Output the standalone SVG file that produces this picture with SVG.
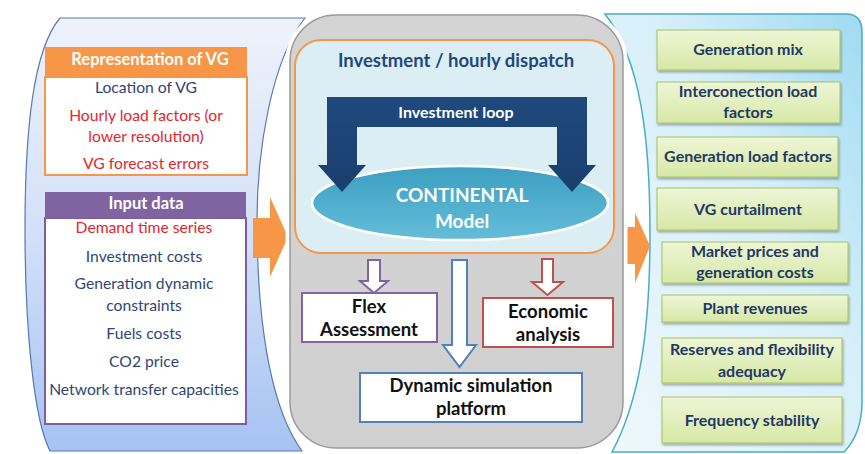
<svg xmlns="http://www.w3.org/2000/svg" width="865" height="454" viewBox="0 0 865 454">
<defs>
  <linearGradient id="gLeft" x1="0" y1="0" x2="0" y2="1">
    <stop offset="0" stop-color="#eef2fb"/>
    <stop offset="0.5" stop-color="#d3e0f8"/>
    <stop offset="1" stop-color="#a6c3f2"/>
  </linearGradient>
  <linearGradient id="gRight" x1="0" y1="1" x2="1" y2="0">
    <stop offset="0" stop-color="#eef8fc"/>
    <stop offset="0.6" stop-color="#d6eff9"/>
    <stop offset="1" stop-color="#9fdaf2"/>
  </linearGradient>
  <linearGradient id="gGray" x1="0" y1="0" x2="0" y2="1">
    <stop offset="0" stop-color="#d4d4d4"/>
    <stop offset="1" stop-color="#d0d0d0"/>
  </linearGradient>
  <linearGradient id="gEll" x1="0" y1="0" x2="0" y2="1">
    <stop offset="0" stop-color="#3d9fc2"/>
    <stop offset="1" stop-color="#64bdd8"/>
  </linearGradient>
  <linearGradient id="gGreen" x1="0" y1="0" x2="0" y2="1">
    <stop offset="0" stop-color="#eef6d6"/>
    <stop offset="1" stop-color="#d6e8a6"/>
  </linearGradient>
  <linearGradient id="gLoop" x1="0" y1="0" x2="0" y2="1">
    <stop offset="0" stop-color="#1f497d"/>
    <stop offset="1" stop-color="#1a3f6e"/>
  </linearGradient>
  <filter id="sh" x="-10%" y="-10%" width="120%" height="130%">
    <feDropShadow dx="1" dy="2" stdDeviation="1.2" flood-color="#000" flood-opacity="0.3"/>
  </filter>
</defs>
<style>
  text { font-family: Lato, "Liberation Sans", sans-serif; text-anchor: middle; }
  .hdr { fill: #ffffff; font-weight: bold; font-size: 16.5px; }
  .lst { fill: #2f4674; font-size: 15.7px; }
  .red { fill: #e3262f; }
  .out { fill: #1f3864; font-weight: bold; font-size: 16px; }
  .blk { fill: #111111; font-weight: bold; font-size: 18.5px; }
  .gbox { fill: url(#gGreen); stroke: #a7c261; stroke-width: 1; filter: url(#sh); }
  .hollow { fill: #ffffff; stroke-width: 2; }
</style>

<g id="left-panel">
  <path d="M60,18 L305,18 C272,60 256,150 257,230 C258,330 272,410 302,451 L50,451 C34,420 25,330 25,230 C25,130 33,50 60,18 Z" fill="url(#gLeft)" stroke="#5a78b0" stroke-width="1.2"/>
</g>

<g id="right-panel">
  <path d="M605,14 L846,14 Q862,14 862,32 L862,405 C861,430 852,444 844,452 L612,452 C640,400 650,330 650,233 C650,140 641,60 605,14 Z" fill="url(#gRight)" stroke="#4bacc6" stroke-width="1.5"/>
</g>

<g id="connectors">
  <g id="arrow-in">
    <rect x="253" y="218" width="18" height="40" fill="#f79646"/>
    <polygon points="270,197 288,237 270,277" fill="#f79646"/>
  </g>
  <g id="arrow-out">
    <rect x="623" y="227" width="13" height="37" fill="#f79646"/>
    <polygon points="635,213 650,246 635,283" fill="#f79646"/>
  </g>
</g>

<g id="middle-panel">
  <rect x="290" y="15" width="333" height="433" rx="46" fill="none" stroke="#ffffff" stroke-width="9"/>
  <rect x="290" y="15" width="333" height="433" rx="46" fill="url(#gGray)" stroke="#9a9a9a" stroke-width="1.5"/>
  <rect x="295" y="40" width="319" height="213" rx="26" fill="#dbeef4" stroke="#f79646" stroke-width="2"/>
  <text x="456" y="67" style="fill:#1f497d;font-weight:bold;font-size:18.5px">Investment / hourly dispatch</text>
</g>

<g id="continental">
  <ellipse cx="460" cy="203" rx="148" ry="37" fill="url(#gEll)" stroke="#ffffff" stroke-width="2.5"/>
  <text x="462" y="202" style="fill:#ffffff;font-weight:bold;font-size:19px">CONTINENTAL</text>
  <text x="462" y="228" style="fill:#ffffff;font-weight:bold;font-size:19px">Model</text>
</g>

<g id="investment-loop">
  <path d="M327,97 L587,97 L587,165 L596,165 L572,192 L548,165 L557,165 L557,127 L357,127 L357,165 L366,165 L342,192 L318,165 L327,165 Z" fill="url(#gLoop)"/>
  <text x="456" y="118" style="fill:#ffffff;font-weight:bold;font-size:16px">Investment loop</text>
</g>

<g id="connectors-mid">
  <path class="hollow" d="M368,260 L380,260 L380,281 L388,281 L374,293 L360,281 L368,281 Z" stroke="#8064a2"/>
  <path class="hollow" d="M452,260 L467,260 L467,345 L476,345 L459.5,367 L443,345 L452,345 Z" stroke="#4f81bd"/>
  <path class="hollow" d="M542,259 L553,259 L553,282 L563,282 L547.5,295 L532,282 L542,282 Z" stroke="#c0504d"/>
</g>

<g id="flex">
  <rect x="302" y="293" width="135" height="49" fill="#ffffff" stroke="#8064a2" stroke-width="2"/>
  <text class="blk" x="369" y="313">Flex</text>
  <text class="blk" x="369" y="336">Assessment</text>
</g>

<g id="economic">
  <rect x="483" y="298" width="130" height="49" fill="#ffffff" stroke="#c0504d" stroke-width="2"/>
  <text class="blk" x="548" y="318">Economic</text>
  <text class="blk" x="548" y="341">analysis</text>
</g>

<g id="dynamic">
  <rect x="360" y="373" width="222" height="49" fill="#ffffff" stroke="#4f81bd" stroke-width="2"/>
  <text class="blk" x="471" y="392">Dynamic simulation</text>
  <text class="blk" x="471" y="415">platform</text>
</g>

<g id="representation-vg">
  <rect x="45" y="77" width="202" height="98" fill="#ffffff" stroke="#f79646" stroke-width="2"/>
  <rect x="45" y="47" width="202" height="30" fill="#f79646"/>
  <text class="hdr" x="150" y="65">Representation of  VG</text>
  <text class="lst" x="146" y="93">Location of VG</text>
  <text class="lst red" x="146" y="121">Hourly load factors (or</text>
  <text class="lst red" x="146" y="142">lower resolution)</text>
  <text class="lst red" x="146" y="169">VG forecast errors</text>
</g>

<g id="input-data">
  <rect x="45" y="218" width="201" height="206" fill="#ffffff" stroke="#7b5f9d" stroke-width="2"/>
  <rect x="45" y="192" width="201" height="26" fill="#8064a2"/>
  <text class="hdr" x="146" y="209">Input data</text>
  <text class="lst red" x="144" y="233">Demand time series</text>
  <text class="lst" x="144" y="262">Investment costs</text>
  <text class="lst" x="144" y="289">Generation dynamic</text>
  <text class="lst" x="144" y="311">constraints</text>
  <text class="lst" x="144" y="339">Fuels costs</text>
  <text class="lst" x="144" y="367">CO2 price</text>
  <text class="lst" x="144" y="395">Network transfer capacities</text>
</g>

<g id="out-generation-mix">
  <rect class="gbox" x="657" y="30" width="183" height="40"/>
  <text class="out" x="748" y="55">Generation mix</text>
</g>
<g id="out-interconnection">
  <rect class="gbox" x="657" y="82" width="183" height="41"/>
  <text class="out" x="748" y="97">Interconection load</text>
  <text class="out" x="748" y="118">factors</text>
</g>
<g id="out-generation-load">
  <rect class="gbox" x="657" y="137" width="181" height="40"/>
  <text class="out" x="748" y="162">Generation load factors</text>
</g>
<g id="out-vg-curtailment">
  <rect class="gbox" x="657" y="188" width="181" height="42"/>
  <text class="out" x="748" y="215">VG curtailment</text>
</g>
<g id="out-market-prices">
  <rect class="gbox" x="662" y="242" width="186" height="41"/>
  <text class="out" x="755" y="257">Market prices and</text>
  <text class="out" x="755" y="278">generation costs</text>
</g>
<g id="out-plant-revenues">
  <rect class="gbox" x="662" y="295" width="186" height="27"/>
  <text class="out" x="755" y="314">Plant revenues</text>
</g>
<g id="out-reserves">
  <rect class="gbox" x="662" y="338" width="180" height="45"/>
  <text class="out" x="752" y="355">Reserves and flexibility</text>
  <text class="out" x="752" y="377">adequacy</text>
</g>
<g id="out-frequency">
  <rect class="gbox" x="662" y="397" width="180" height="46"/>
  <text class="out" x="752" y="426">Frequency stability</text>
</g>
</svg>
